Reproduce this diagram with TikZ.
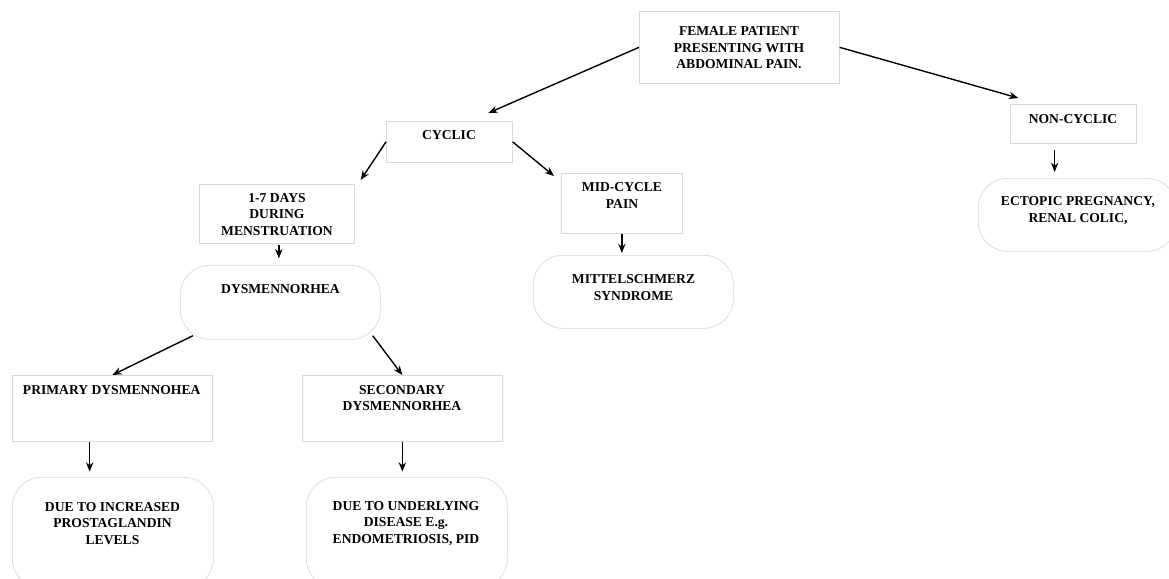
\documentclass[tikz,border=0pt]{standalone}
\usepackage{fontspec}
\setmainfont{Liberation Serif}
\usetikzlibrary{arrows.meta}
\begin{document}
\begin{tikzpicture}[x=0.75pt,y=-0.75pt,
  boxnode/.style={draw=black!15,line width=0.5pt,fill=white,inner sep=0pt,anchor=north west},
  pill/.style={boxnode,rounded corners=22pt},
  txt/.style={font=\fontsize{10.2}{12.4}\selectfont\bfseries,align=center,inner sep=0pt},
  arr/.style={line width=1.05pt,-{Stealth[length=7pt,width=5.5pt]}}]
\useasboundingbox (0,0) rectangle (1169,578);
\fill[white] (0,0) rectangle (1169,578);
% boxes
\node[boxnode,minimum width=150pt,minimum height=54pt] (top) at (639,11) {};
\node[boxnode,minimum width=94.5pt,minimum height=30.75pt] (cyc) at (386,121) {};
\node[boxnode,minimum width=94.5pt,minimum height=29.25pt] (nonc) at (1010,104) {};
\node[boxnode,minimum width=116.25pt,minimum height=44.25pt] (days) at (199,184) {};
\node[boxnode,minimum width=90.75pt,minimum height=45pt] (mid) at (561,173) {};
\node[pill,minimum width=150pt,minimum height=55.5pt] (dysm) at (180,265) {};
\node[pill,minimum width=150pt,minimum height=54.75pt] (mitt) at (533,255) {};
\node[pill,minimum width=148.5pt,minimum height=54.75pt] (ect) at (978,178) {};
\node[boxnode,minimum width=150pt,minimum height=49.5pt] (prim) at (12,375) {};
\node[boxnode,minimum width=150pt,minimum height=49.5pt] (sec) at (302,375) {};
\node[pill,minimum width=150.75pt,minimum height=83pt] (due1) at (12,477) {};
\node[pill,minimum width=150.75pt,minimum height=83pt] (due2) at (306,477) {};
% texts
\node[txt] (topT) at (739,48) {FEMALE PATIENT\\PRESENTING WITH\\ABDOMINAL PAIN.};
\node[txt] (cycT) at (449,135) {CYCLIC};
\node[txt] (noncT) at (1073,119) {NON-CYCLIC};
\node[txt] (daysT) at (277,214.5) {1-7 DAYS\\DURING\\MENSTRUATION};
\node[txt] (midT) at (622,195.5) {MID-CYCLE\\PAIN};
\node[txt] (dysmT) at (280.5,289) {DYSMENNORHEA};
\node[txt] (mittT) at (633.5,287.5) {MITTELSCHMERZ\\SYNDROME};
\node[txt] (ectT) at (1078,210.5) {ECTOPIC PREGNANCY,\\RENAL COLIC,};
\node[txt] (primT) at (111.7,390) {PRIMARY DYSMENNOHEA};
\node[txt] (secT) at (402,398) {SECONDARY\\DYSMENNORHEA};
\node[txt] (due1T) at (112.5,523.5) {DUE TO INCREASED\\PROSTAGLANDIN\\LEVELS};
\node[txt] (due2T) at (406,523.5) {DUE TO UNDERLYING\\DISEASE E.g.\\ENDOMETRIOSIS, PID};
% connectors
\draw[arr] (top.west) -- ([shift={(39,-8)}]cyc.north);
\draw[arr] (top.east) -- ([shift={(-55,-6)}]nonc.north);
\draw[arr] (cyc.west) -- ([shift={(6,-4)}]days.north east);
\draw[arr] (cyc.east) -- ([shift={(-7,3)}]mid.north west);
\draw[arr,shorten <=1pt,shorten >=5pt] ([xshift=1.5]days.south) -- ([xshift=1.5]days.south |- dysm.north);
\draw[arr,shorten >=1.5pt] (mid.south) -- (mid.south |- mitt.north);
\draw[arr,shorten <=5pt,shorten >=4.5pt] ([xshift=-14]nonc.south) -- ([xshift=-14]nonc.south |- ect.north);
\draw[arr] ([shift={(13,-4)}]dysm.south west) -- (prim.north);
\draw[arr] ([shift={(-8,-4)}]dysm.south east) -- (sec.north);
\draw[arr,shorten >=4pt] ([xshift=-17]prim.south) -- ([xshift=-17]prim.south |- due1.north);
\draw[arr,shorten >=4pt] (sec.south) -- (sec.south |- due2.north);
\end{tikzpicture}
\end{document}
